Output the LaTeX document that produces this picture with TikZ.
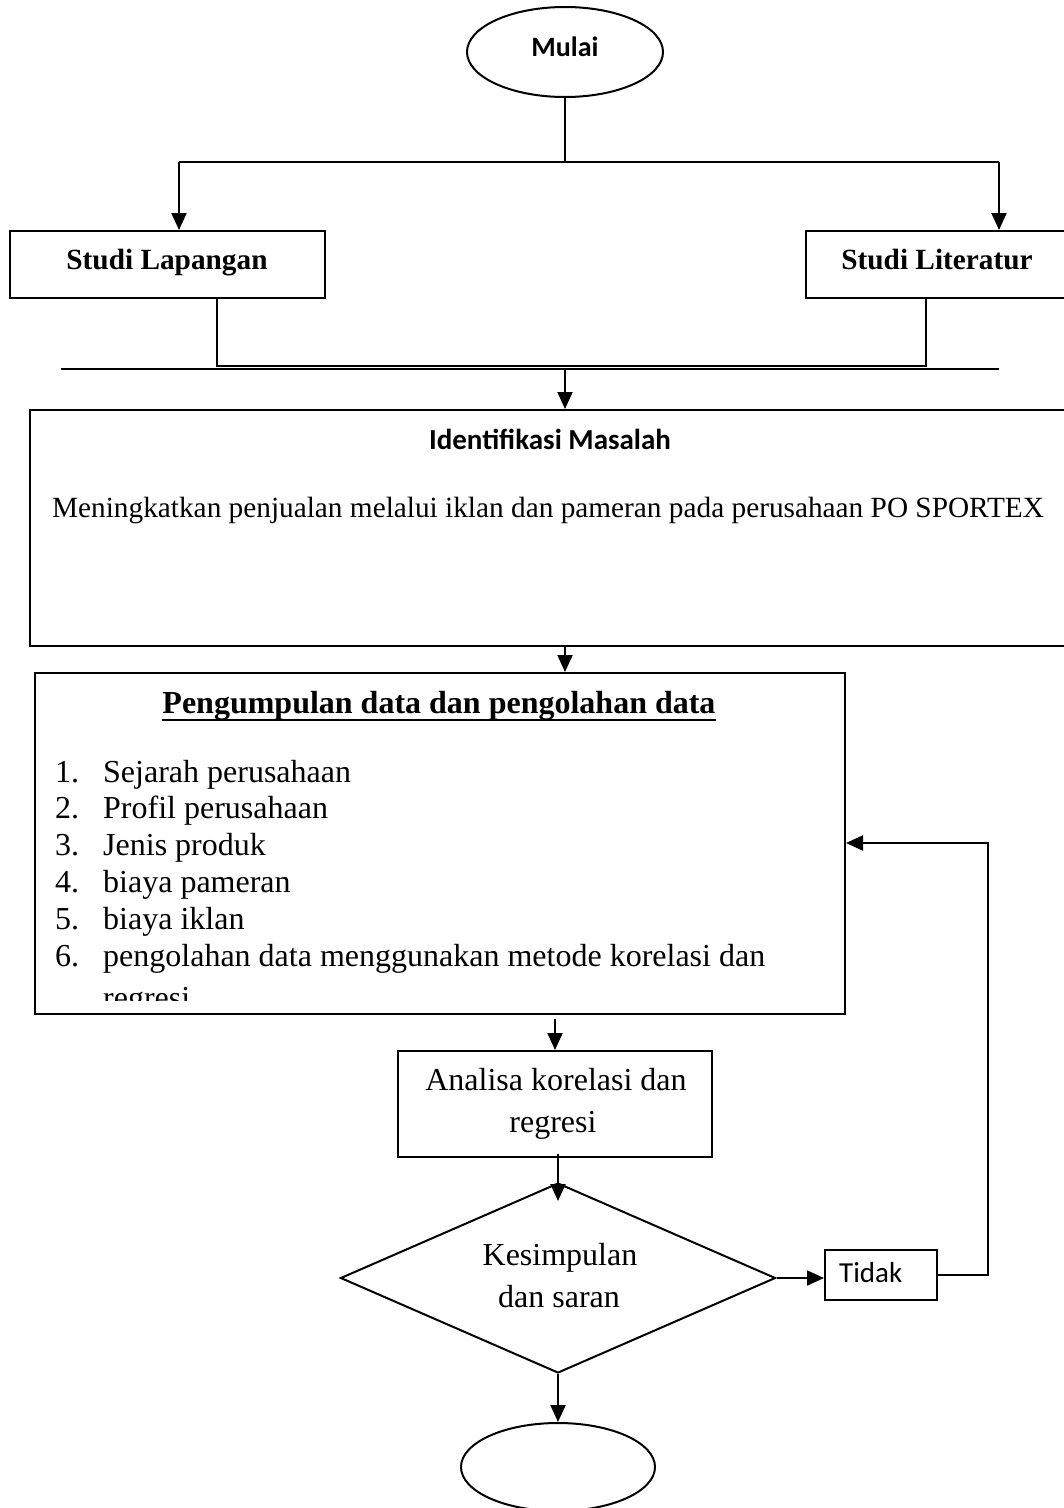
\documentclass[tikz,border=0pt]{standalone}
\usepackage{fontspec}
\setmainfont{Liberation Serif}
\newfontfamily\calibri{Carlito}
\usetikzlibrary{shapes.geometric,arrows.meta,calc}
\newcommand\szA{\fontsize{29.3pt}{35pt}\selectfont}
\newcommand\szB{\fontsize{32pt}{37pt}\selectfont}
\newcommand\szM{\fontsize{28pt}{33pt}\selectfont}
\newcommand\szI{\fontsize{29pt}{34pt}\selectfont}
\tikzset{
  box/.style={draw, line width=2pt, rectangle, inner sep=0pt},
  oval/.style={draw, line width=2pt, ellipse, inner sep=0pt},
  arr/.style={line width=2pt, -{Triangle[length=17pt,width=15pt]}},
  ln/.style={line width=2pt},
  txt/.style={inner sep=0pt, anchor=base},
}
\begin{document}
\begin{tikzpicture}[x=1pt,y=-1pt]
\useasboundingbox (0,0) rectangle (1064,1508);
% start
\node[oval, minimum width=196pt, minimum height=90pt] (mulai) at (565,52) {};
\node[txt, font=\calibri\bfseries\szM] (mulait) at (565,56) {Mulai};
% studies
\node[box, minimum width=315pt, minimum height=67pt] (lap) at (167.5,264.5) {};
\node[txt, font=\bfseries\szA] (lapt) at (167,269) {Studi Lapangan};
\node[box, minimum width=274pt, minimum height=67pt] (lit) at (943,264.5) {};
\node[txt, font=\bfseries\szA] (litt) at (937,269) {Studi Literatur};
\coordinate (jt) at (565,162);
\coordinate (jl) at (179,162);
\coordinate (jr) at (999,162);
\draw[ln] (mulai.south) -- (jt);
\draw[ln] (jl) -- (jr);
\draw[arr] (jl) -- (jl |- lap.north);
\draw[arr] (jr) -- (jr |- lit.north);
% merge
\coordinate (bl) at (217,366);
\coordinate (br) at (926,366);
\draw[ln] (bl |- lap.south) -- (bl) -- (br) -- (br |- lit.south);
\coordinate (hl1) at (61,369);
\coordinate (hl2) at (999,369);
\coordinate (hm) at (565,369);
\draw[ln] (hl1) -- (hl2);
% identification
\node[box, minimum width=1050pt, minimum height=236pt] (ident) at (555,528) {};
\node[txt, font=\calibri\bfseries\szI] (identt) at (550,449) {Identifikasi Masalah};
\node[txt, font=\szA] (identb) at (548,517) {Meningkatkan penjualan melalui iklan dan pameran pada perusahaan PO SPORTEX};
\draw[arr] (hm) -- (hm |- ident.north);
% data collection
\node[box, minimum width=810pt, minimum height=341pt] (peng) at (440,843.5) {};
\draw[arr] (ident.south -| hm) -- (peng.north -| hm);
\node[txt, font=\bfseries\szB] (pengt) at (439,713) {Pengumpulan data dan pengolahan data};
\draw[line width=2.5pt] ($(pengt.base west)+(0,7)$) -- ($(pengt.base east)+(0,7)$);
\begin{scope}
\clip (35,673) rectangle (845,1000);
\foreach \i/\t [count=\k] in {1/Sejarah perusahaan, 2/Profil perusahaan, 3/Jenis produk, 4/biaya pameran, 5/biaya iklan, 6/pengolahan data menggunakan metode korelasi dan} {
  \node[inner sep=0pt, anchor=base west, font=\szB] (n\k) at (55,{782+36.8*(\k-1)}) {\i.};
  \node[inner sep=0pt, anchor=base west, font=\szB] (l\k) at (103,{782+36.8*(\k-1)}) {\t};
}
\node[inner sep=0pt, anchor=base west, font=\szB] (l7) at (103,1008) {regresi};
\end{scope}
% analysis
\node[box, minimum width=314pt, minimum height=106pt] (anal) at (555,1104) {};
\node[txt, font=\szB] (analt1) at (556,1090) {Analisa korelasi dan};
\node[txt, font=\szB] (analt2) at (553,1132) {regresi};
\draw[arr, shorten <=4pt] (anal.north |- peng.south) -- (anal.north);
% decision
\node[draw, line width=2pt, diamond, aspect=2.29, minimum width=435pt, minimum height=190pt, inner sep=0pt] (dia) at (558,1278) {};
\node[txt, font=\szB] (diat1) at (560,1265) {Kesimpulan};
\node[txt, font=\szB] (diat2) at (559,1307) {dan saran};
\draw[arr] ([yshift=4pt]dia.north |- anal.south) -- ([yshift=-19pt]dia.north);
% tidak
\node[box, minimum width=112pt, minimum height=50pt] (tidak) at (881,1275) {};
\node[inner sep=0pt, anchor=base west, font=\calibri\szI] (tidakt) at (839,1282) {Tidak};
\draw[arr] (dia.east) -- (dia.east -| tidak.west);
\coordinate (loopc) at (988,843);
\draw[arr] (tidak.east) -| (loopc) -- (loopc -| peng.east);
% end
\node[oval, minimum width=194pt, minimum height=88pt] (fin) at (558,1467) {};
\draw[arr] (dia.south) -- (fin.north);
\end{tikzpicture}
\end{document}
